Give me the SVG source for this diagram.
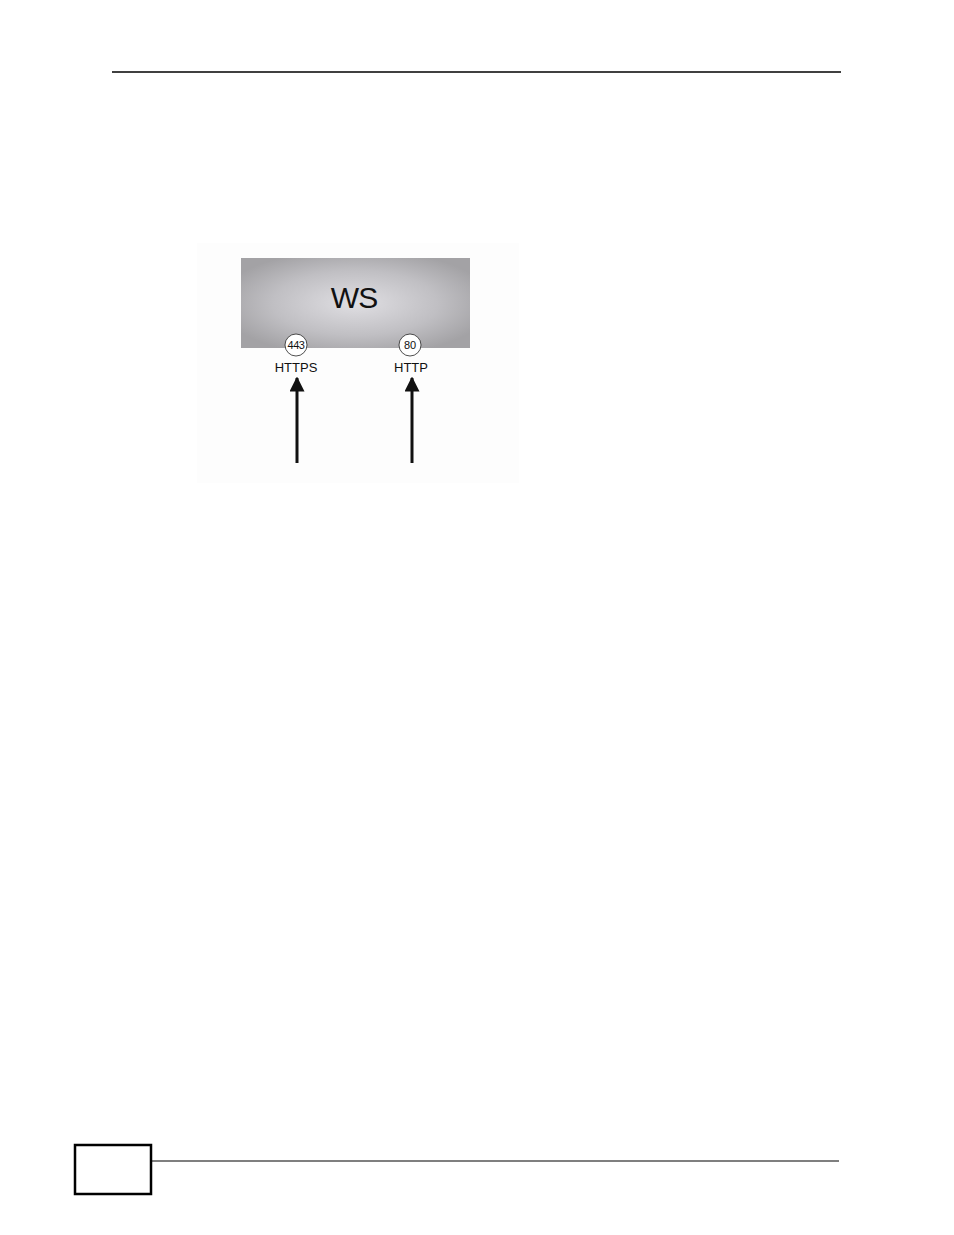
<svg xmlns="http://www.w3.org/2000/svg" width="954" height="1235" viewBox="0 0 954 1235">
<style>
.t{font-family:"Liberation Sans",Arial,sans-serif;fill:#111}
.port{fill:#fff;stroke:#222;stroke-width:0.8}
.arrow{stroke:#111;stroke-width:3;fill:none}
</style>
<defs>
<radialGradient id="g" cx="0.5" cy="0.5" r="0.6">
<stop offset="0" stop-color="#e0dfe3"/>
<stop offset="0.6" stop-color="#c0bfc3"/>
<stop offset="1" stop-color="#a3a2a5"/>
</radialGradient>
<marker id="ah" viewBox="0 0 10 10" refX="9" refY="5" markerWidth="5" markerHeight="5" markerUnits="strokeWidth" orient="auto">
<path d="M0,0 L10,5 L0,10 z" fill="#111"/>
</marker>
</defs>
<rect width="954" height="1235" fill="#fff"/>
<line x1="112" y1="72" x2="841" y2="72" stroke="#000" stroke-width="1.5"/>
<rect x="197" y="243" width="322" height="240" fill="#fdfdfd"/>
<g id="ws">
<rect x="241" y="258" width="229" height="90" fill="url(#g)"/>
<text class="t" x="354" y="308" font-size="30" text-anchor="middle" letter-spacing="-1">WS</text>
</g>
<g id="port443">
<circle class="port" cx="296" cy="345" r="11"/>
<text class="t" x="296" y="349" font-size="11" text-anchor="middle" letter-spacing="-0.5">443</text>
<text class="t" x="296" y="372" font-size="13" text-anchor="middle">HTTPS</text>
</g>
<g id="port80">
<circle class="port" cx="410" cy="345" r="11"/>
<text class="t" x="410" y="349" font-size="11" text-anchor="middle">80</text>
<text class="t" x="411" y="372" font-size="13" text-anchor="middle">HTTP</text>
</g>
<g id="connectors">
<line class="arrow" x1="297" y1="463" x2="297" y2="378" marker-end="url(#ah)"/>
<line class="arrow" x1="412" y1="463" x2="412" y2="378" marker-end="url(#ah)"/>
</g>
<rect x="75" y="1145" width="76" height="49" fill="none" stroke="#000" stroke-width="2.5"/>
<line x1="151" y1="1161" x2="839" y2="1161" stroke="#000" stroke-width="1.2"/>
</svg>
